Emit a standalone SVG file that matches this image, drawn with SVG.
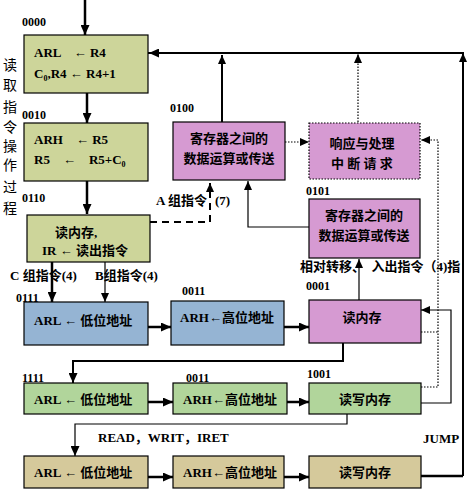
<svg xmlns="http://www.w3.org/2000/svg" width="474" height="491" viewBox="0 0 474 491">
<style>
text{font-family:"Liberation Serif","Noto Sans CJK SC",serif;font-weight:bold;font-size:13px;fill:#000}
.lbl{font-size:12px}
.side{font-family:"Noto Sans CJK SC",sans-serif;font-weight:normal;font-size:14px}
.b{stroke:#000;stroke-width:1.2}
.olive{fill:#cdd59a}
.green{fill:#b1d59b}
.tan{fill:#d5c99b}
.blue{fill:#95b4d3}
.pink{fill:#d69ad2}
.dot{stroke-dasharray:1.5 1.5}
.thick{stroke:#000;stroke-width:2.5;fill:none}
.med{stroke:#000;stroke-width:2;fill:none}
.thin{stroke:#000;stroke-width:1.2;fill:none}
.dl{stroke:#000;stroke-width:1.2;fill:none;stroke-dasharray:1.5 1.5}
</style>
<defs>
<marker id="ah" markerUnits="userSpaceOnUse" markerWidth="10" markerHeight="9" refX="10" refY="4.5" orient="auto"><path d="M0,0 L10,4.5 L0,9 z" fill="#000"/></marker>
<marker id="as" markerUnits="userSpaceOnUse" markerWidth="9" markerHeight="8" refX="9" refY="4" orient="auto"><path d="M0,0 L9,4 L0,8 z" fill="#000"/></marker>
</defs>

<g id="side-label">
<text class="side" x="10" y="70" text-anchor="middle">读</text>
<text class="side" x="10" y="90" text-anchor="middle">取</text>
<text class="side" x="10" y="112" text-anchor="middle">指</text>
<text class="side" x="10" y="132" text-anchor="middle">令</text>
<text class="side" x="10" y="151" text-anchor="middle">操</text>
<text class="side" x="10" y="170" text-anchor="middle">作</text>
<text class="side" x="10" y="192" text-anchor="middle">过</text>
<text class="side" x="10" y="213" text-anchor="middle">程</text>
</g>

<g id="connectors">
<line class="thick" x1="85" y1="0" x2="85" y2="35" marker-end="url(#ah)"/>
<line class="thick" x1="87" y1="93" x2="87" y2="123" marker-end="url(#ah)"/>
<line class="thick" x1="87" y1="181" x2="87" y2="214" marker-end="url(#ah)"/>
<polyline class="med" points="150,222 210,222 210,183" stroke-dasharray="7 5" marker-end="url(#as)"/>
<line class="med" x1="222" y1="122" x2="222" y2="55" marker-end="url(#as)"/>
<polyline class="med" points="463,476 463,53 148,53" />
<line class="med" x1="150" y1="53" x2="149" y2="53" marker-end="url(#ah)"/>
<line class="med" x1="463" y1="70" x2="463" y2="53" marker-end="url(#as)"/>
<polyline class="thick" points="421,476 463,476"/>
<line class="dl" x1="358" y1="122" x2="358" y2="54" marker-end="url(#as)"/>
<line class="dl" x1="285" y1="142" x2="309" y2="142" marker-end="url(#as)"/>
<polyline class="dl" points="421,387 438,387 438,140 421,140" marker-end="url(#as)"/>
<line class="dl" x1="421" y1="332" x2="438" y2="332"/>
<polyline class="thin" points="309,227 248,227 248,181" marker-end="url(#as)"/>
<line class="thin" x1="359" y1="300" x2="359" y2="259" marker-end="url(#as)"/>
<line class="thick" x1="52" y1="262" x2="52" y2="302" marker-end="url(#ah)"/>
<line class="thin" x1="105" y1="262" x2="105" y2="302" marker-end="url(#as)"/>
<line class="thick" x1="148" y1="327" x2="171" y2="327" marker-end="url(#ah)"/>
<line class="thick" x1="284" y1="327" x2="309" y2="327" marker-end="url(#ah)"/>
<polyline class="med" points="343,343 343,361 73,361 73,383" marker-end="url(#ah)"/>
<polyline class="thin" points="421,403 451,403 451,310 421,310" marker-end="url(#as)"/>
<line class="thick" x1="148" y1="402" x2="173" y2="402" marker-end="url(#ah)"/>
<line class="thick" x1="287" y1="402" x2="309" y2="402" marker-end="url(#ah)"/>
<polyline class="thin" points="347,414 347,424 75,424 75,456" marker-end="url(#ah)"/>
<line class="thick" x1="148" y1="477" x2="173" y2="477" marker-end="url(#ah)"/>
<line class="thick" x1="284" y1="477" x2="309" y2="477" marker-end="url(#ah)"/>
</g>

<g id="labels">
<text class="lbl" x="22" y="26">0000</text>
<text class="lbl" x="22" y="119">0010</text>
<text class="lbl" x="22" y="202">0110</text>
<text class="lbl" x="170" y="112">0100</text>
<text class="lbl" x="306" y="195">0101</text>
<text x="207" y="205" text-anchor="end">A 组指令</text>
<text x="215" y="205">(7)</text>
<text x="300" y="271" font-size="12">相对转移、　入出指令（4)指</text>
<text x="10" y="280" font-size="12">C 组指令(4)</text>
<text x="95" y="280" font-size="12">B组指令(4)</text>
<text class="lbl" x="16" y="302">0111</text>
<text class="lbl" x="182" y="295">0011</text>
<text class="lbl" x="306" y="290">0001</text>
<text class="lbl" x="22" y="382">1111</text>
<text class="lbl" x="186" y="382">0011</text>
<text class="lbl" x="307" y="378">1001</text>
<text x="98" y="442" font-size="12">READ，WRIT，IRET</text>
<text x="423" y="443" font-size="12">JUMP</text>
</g>

<g id="n0000"><rect class="olive b" x="24" y="35" width="124" height="58"/>
<text x="34" y="57">ARL　← R4</text>
<text x="34" y="78">C<tspan font-size="8" dy="3">0</tspan><tspan dy="-3">,R4 ← R4+1</tspan></text></g>
<g id="n0010"><rect class="olive b" x="24" y="123" width="124" height="58"/>
<text x="34" y="144">ARH　← R5</text>
<text x="34" y="164">R5　←　R5+C<tspan font-size="8" dy="3">0</tspan></text></g>
<g id="n0110"><rect class="olive b" x="27" y="215" width="123" height="47"/>
<text x="55" y="237">读内存,</text>
<text x="42" y="255">IR ← 读出指令</text></g>
<g id="n0100"><rect class="pink b" x="173" y="122" width="112" height="58"/>
<text x="229" y="143" text-anchor="middle">寄存器之间的</text>
<text x="229" y="163" text-anchor="middle">数据运算或传送</text></g>
<g id="nint"><rect class="pink b dot" x="309" y="123" width="111" height="56"/>
<text x="362" y="148" text-anchor="middle">响应与处理</text>
<text x="362" y="168" text-anchor="middle">中 断 请 求</text></g>
<g id="n0101"><rect class="pink b" x="309" y="199" width="111" height="59"/>
<text x="364" y="220" text-anchor="middle">寄存器之间的</text>
<text x="364" y="240" text-anchor="middle">数据运算或传送</text></g>
<g id="n0111"><rect class="blue b" x="24" y="302" width="124" height="43"/>
<text x="34" y="325">ARL ←  低位地址</text></g>
<g id="n0011a"><rect class="blue b" x="171" y="301" width="113" height="44"/>
<text x="180" y="322">ARH←高位地址</text></g>
<g id="n0001"><rect class="pink b" x="309" y="300" width="112" height="43"/>
<text x="362" y="322" text-anchor="middle">读内存</text></g>
<g id="n1111"><rect class="green b" x="24" y="383" width="124" height="31"/>
<text x="34" y="404">ARL ←  低位地址</text></g>
<g id="n0011b"><rect class="green b" x="173" y="383" width="114" height="31"/>
<text x="183" y="404">ARH←高位地址</text></g>
<g id="n1001"><rect class="green b" x="309" y="383" width="112" height="31"/>
<text x="365" y="404" text-anchor="middle">读写内存</text></g>
<g id="r3a"><rect class="tan b" x="24" y="456" width="124" height="32"/>
<text x="34" y="477">ARL ←  低位地址</text></g>
<g id="r3b"><rect class="tan b" x="173" y="456" width="111" height="32"/>
<text x="183" y="477">ARH←高位地址</text></g>
<g id="r3c"><rect class="tan b" x="309" y="456" width="112" height="32"/>
<text x="365" y="477" text-anchor="middle">读写内存</text></g>
</svg>
